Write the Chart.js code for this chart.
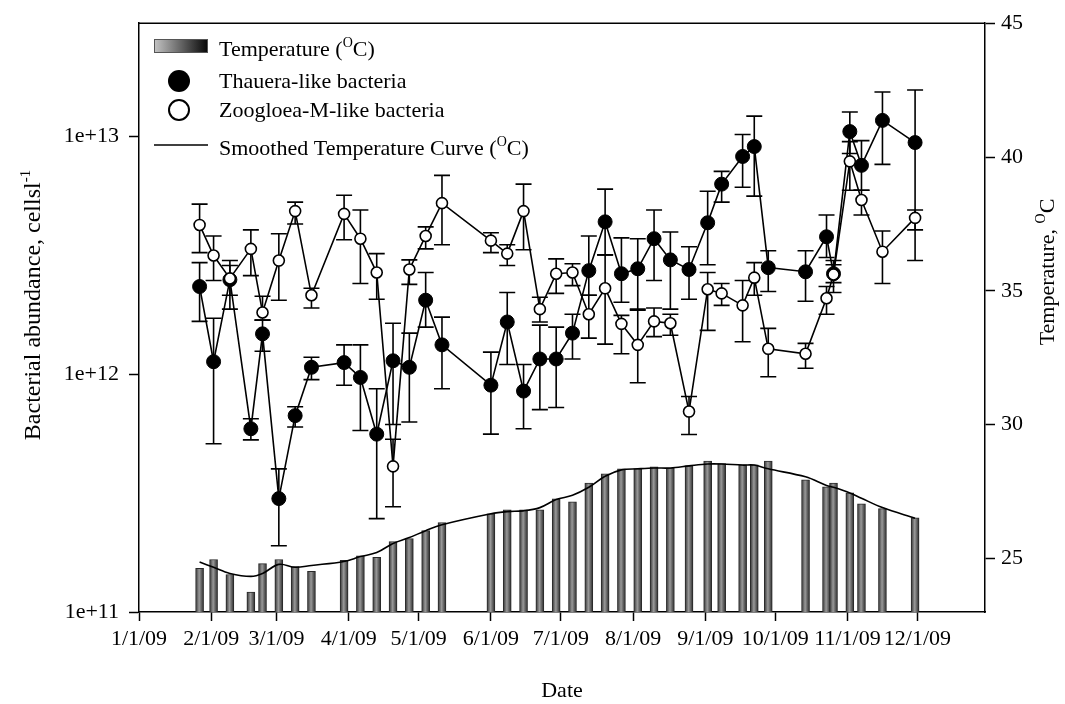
<!DOCTYPE html>
<html>
<head>
<meta charset="utf-8">
<script src="https://cdn.jsdelivr.net/npm/chart.js@4.4.0/dist/chart.umd.min.js"></script>
<style>
  html, body { margin: 0; padding: 0; background: #fff; }
</style>
</head>
<body>
<canvas id="grafico" width="1065" height="704"></canvas>
<script>
// sampling dates (m/d/yy)
const sampleDates = ['1/27/09','2/2/09','2/9/09','2/18/09','2/23/09','3/2/09','3/9/09','3/16/09','3/30/09','4/6/09',
  '4/13/09','4/20/09','4/27/09','5/4/09','5/11/09','6/1/09','6/8/09','6/15/09','6/22/09','6/29/09',
  '7/6/09','7/13/09','7/20/09','7/27/09','8/3/09','8/10/09','8/17/09','8/25/09','9/2/09','9/8/09',
  '9/17/09','9/22/09','9/28/09','10/14/09','10/23/09','10/26/09','11/2/09','11/7/09','11/16/09','11/30/09'];

// Thauera-like bacteria, cells/l, with error bar limits
const thauera = [2.34e12, 1.13e12, 2.5e12, 5.9e11, 1.48e12, 3.0e11, 6.7e11, 1.07e12, 1.12e12, 9.7e11,
  5.6e11, 1.14e12, 1.07e12, 2.05e12, 1.33e12, 9.0e11, 1.66e12, 8.5e11, 1.16e12, 1.16e12,
  1.49e12, 2.73e12, 4.38e12, 2.65e12, 2.78e12, 3.72e12, 3.03e12, 2.76e12, 4.34e12, 6.31e12,
  8.25e12, 9.08e12, 2.81e12, 2.70e12, 3.79e12, 2.65e12, 1.05e13, 7.57e12, 1.17e13, 9.44e12];
const thaueraHi = [2.95e12, 1.72e12, 2.87e12, 6.5e11, 1.69e12, 4.0e11, 7.3e11, 1.18e12, 1.33e12, 1.33e12,
  8.7e11, 1.64e12, 1.49e12, 2.68e12, 1.74e12, 1.24e12, 2.21e12, 1.10e12, 1.61e12, 1.58e12,
  1.79e12, 3.82e12, 6.01e12, 3.75e12, 3.72e12, 4.91e12, 3.97e12, 3.44e12, 5.89e12, 7.14e12,
  1.02e13, 1.22e13, 3.31e12, 3.31e12, 4.68e12, 2.89e12, 1.27e13, 9.62e12, 1.54e13, 1.57e13];
const thaueraLo = [1.67e12, 5.1e11, 2.15e12, 5.3e11, 1.25e12, 1.9e11, 6.0e11, 9.5e11, 9.0e11, 5.8e11,
  2.47e11, 6.15e11, 6.3e11, 1.58e12, 8.7e11, 5.6e11, 1.10e12, 5.9e11, 7.1e11, 7.25e11,
  1.16e12, 2.15e12, 3.18e12, 2.01e12, 1.86e12, 2.48e12, 1.88e12, 2.07e12, 2.89e12, 5.30e12,
  6.12e12, 5.62e12, 2.23e12, 2.03e12, 3.10e12, 2.43e12, 8.49e12, 5.95e12, 7.64e12, 3.01e12];

// Zoogloea-M-like bacteria, cells/l, with error bar limits
const zoogloea = [4.25e12, 3.16e12, 2.53e12, 3.37e12, 1.82e12, 3.01e12, 4.86e12, 2.15e12, 4.73e12, 3.72e12,
  2.68e12, 4.1e11, 2.76e12, 3.82e12, 5.25e12, 3.65e12, 3.22e12, 4.86e12, 1.88e12, 2.65e12,
  2.68e12, 1.79e12, 2.30e12, 1.63e12, 1.33e12, 1.67e12, 1.64e12, 6.97e11, 2.28e12, 2.19e12,
  1.95e12, 2.55e12, 1.28e12, 1.22e12, 2.09e12, 2.63e12, 7.87e12, 5.41e12, 3.28e12, 4.55e12];
const zoogloeaHi = [5.2e12, 3.82e12, 3.01e12, 4.05e12, 2.13e12, 3.9e12, 5.3e12, 2.3e12, 5.67e12, 4.91e12,
  3.22e12, 5.33e11, 3.03e12, 4.17e12, 6.87e12, 3.94e12, 3.51e12, 6.31e12, 2.11e12, 3.06e12,
  2.92e12, 2.15e12, 3.18e12, 1.77e12, 1.88e12, 1.90e12, 1.79e12, 8.06e11, 2.68e12, 2.41e12,
  2.48e12, 2.95e12, 1.56e12, 1.35e12, 2.34e12, 3.01e12, 9.53e12, 5.95e12, 4.01e12, 4.91e12];
const zoogloeaLo = [3.25e12, 2.48e12, 1.88e12, 2.60e12, 1.69e12, 2.05e12, 4.29e12, 1.90e12, 3.68e12, 2.41e12,
  2.07e12, 2.77e11, 2.39e12, 3.37e12, 3.51e12, 3.25e12, 2.87e12, 3.34e12, 1.66e12, 2.19e12,
  2.36e12, 1.42e12, 1.34e12, 1.22e12, 9.22e11, 1.44e12, 1.46e12, 5.58e11, 1.53e12, 1.95e12,
  1.37e12, 2.15e12, 9.77e11, 1.06e12, 1.79e12, 2.21e12, 5.95e12, 4.68e12, 2.41e12, 4.05e12];

// water temperature (oC) and the smoothed curve
const temperature = [24.63, 24.96, 24.4, 23.74, 24.81, 24.96, 24.70, 24.52, 24.93, 25.1,
  25.04, 25.63, 25.74, 26.04, 26.34, 26.67, 26.82, 26.82, 26.82, 27.23,
  27.12, 27.82, 28.16, 28.35, 28.35, 28.42, 28.38, 28.46, 28.64, 28.55,
  28.5, 28.5, 28.64, 27.94, 27.68, 27.82, 27.45, 27.04, 26.86, 26.52];
const smoothedTemp = [24.87, 24.67, 24.44, 24.33, 24.44, 24.78, 24.67, 24.74, 24.89, 25.07,
  25.22, 25.56, 25.78, 26.04, 26.26, 26.67, 26.75, 26.78, 26.90, 27.20,
  27.36, 27.66, 28.07, 28.31, 28.35, 28.38, 28.38, 28.46, 28.53, 28.53,
  28.49, 28.49, 28.35, 28.05, 27.73, 27.66, 27.45, 27.25, 26.90, 26.50];

// axes
const monthTicks = ['1/1/09','2/1/09','3/1/09','4/1/09','5/1/09','6/1/09','7/1/09','8/1/09','9/1/09','10/1/09','11/1/09','12/1/09'];
const dateRange = ['1/1/09', '12/30/09'];
const abundanceTicks = [1e11, 1e12, 1e13];
const abundanceRange = [1e11, 3e13];
const tempTicks = [25, 30, 35, 40, 45];
const tempRange = [23, 45];

const FONT = '"Liberation Serif", "Times New Roman", serif';

// days since 1 Jan 2009
function dayOf(s) {
  const [m, d, y] = s.split('/').map(Number);
  return (Date.UTC(2000 + y, m - 1, d) - Date.UTC(2009, 0, 1)) / 864e5;
}
const days = sampleDates.map(dayOf);
const monthDays = monthTicks.map(dayOf);
const pts = (vals) => vals.map((v, i) => ({ x: days[i], y: v }));

// text with {superscript} parts
function drawRich(ctx, str, x, y, size, center) {
  const parts = str.split(/[{}]/).map((t, i) => ({ t, sup: i % 2 === 1 }));
  const big = size + 'px ' + FONT;
  const small = Math.round(size * 0.62) + 'px ' + FONT;
  let w = 0;
  parts.forEach((p) => {
    ctx.font = p.sup ? small : big;
    p.w = ctx.measureText(p.t).width;
    w += p.w;
  });
  let cx = center ? x - w / 2 : x;
  ctx.textAlign = 'left';
  ctx.textBaseline = 'alphabetic';
  parts.forEach((p) => {
    ctx.font = p.sup ? small : big;
    ctx.fillText(p.t, cx, p.sup ? y - size * 0.42 : y);
    cx += p.w;
  });
}

const errorBars = {
  id: 'errorBars',
  beforeDatasetsDraw(chart) {
    const { ctx } = chart;
    const x = chart.scales.x, y = chart.scales.y;
    ctx.save();
    ctx.strokeStyle = '#000';
    ctx.lineWidth = 1.6;
    chart.data.datasets.forEach((ds) => {
      if (!ds.errHi) return;
      ds.data.forEach((p, i) => {
        const px = x.getPixelForValue(p.x);
        const t = y.getPixelForValue(ds.errHi[i]);
        const b = y.getPixelForValue(ds.errLo[i]);
        ctx.beginPath();
        ctx.moveTo(px, t); ctx.lineTo(px, b);
        ctx.moveTo(px - 8, t); ctx.lineTo(px + 8, t);
        ctx.moveTo(px - 8, b); ctx.lineTo(px + 8, b);
        ctx.stroke();
      });
    });
    ctx.restore();
  }
};

const decor = {
  id: 'decor',
  afterDraw(chart) {
    const { ctx, chartArea: a } = chart;
    ctx.save();
    // top edge of the frame
    ctx.strokeStyle = '#000';
    ctx.lineWidth = 1.5;
    ctx.beginPath();
    ctx.moveTo(a.left, a.top); ctx.lineTo(a.right, a.top);
    ctx.stroke();

    ctx.fillStyle = '#000';
    // axis titles
    drawRich(ctx, 'Date', (a.left + a.right) / 2, 697, 22, true);
    ctx.save();
    ctx.translate(40, 305);
    ctx.rotate(-Math.PI / 2);
    drawRich(ctx, 'Bacterial abundance, cellsl{-1}', 0, 0, 24, true);
    ctx.restore();
    ctx.save();
    ctx.translate(1054, 272);
    ctx.rotate(-Math.PI / 2);
    drawRich(ctx, 'Temperature, {O}C', 0, 0, 22, true);
    ctx.restore();

    // legend
    const ds = chart.data.datasets;
    const g = ctx.createLinearGradient(154, 0, 208, 0);
    g.addColorStop(0, '#c4c4c4');
    g.addColorStop(1, '#050505');
    ctx.fillStyle = g;
    ctx.fillRect(154, 39, 54, 14);
    ctx.strokeStyle = '#555';
    ctx.lineWidth = 1;
    ctx.strokeRect(154.5, 39.5, 53, 13);

    ctx.fillStyle = '#000';
    ctx.beginPath();
    ctx.arc(179, 81, 11, 0, Math.PI * 2);
    ctx.fill();

    ctx.fillStyle = '#fff';
    ctx.strokeStyle = '#000';
    ctx.lineWidth = 2;
    ctx.beginPath();
    ctx.arc(179, 110, 10, 0, Math.PI * 2);
    ctx.fill();
    ctx.stroke();

    ctx.lineWidth = 1.6;
    ctx.beginPath();
    ctx.moveTo(154, 145); ctx.lineTo(208, 145);
    ctx.stroke();

    ctx.fillStyle = '#000';
    const rows = [[ds[3].label, 56], [ds[1].label, 88], [ds[0].label, 117], [ds[2].label, 155]];
    rows.forEach(([txt, yb]) => drawRich(ctx, txt, 219, yb, 22, false));
    ctx.restore();
  }
};

const tickFont = { family: FONT, size: 22 };

new Chart(document.getElementById('grafico'), {
  data: {
    datasets: [
      {
        type: 'line',
        label: 'Zoogloea-M-like bacteria',
        data: pts(zoogloea),
        errHi: zoogloeaHi,
        errLo: zoogloeaLo,
        yAxisID: 'y',
        order: 0,
        borderColor: '#000',
        borderWidth: 1.6,
        tension: 0,
        pointRadius: 5.5,
        pointBackgroundColor: '#fff',
        pointBorderColor: '#000',
        pointBorderWidth: 1.6
      },
      {
        type: 'line',
        label: 'Thauera-like bacteria',
        data: pts(thauera),
        errHi: thaueraHi,
        errLo: thaueraLo,
        yAxisID: 'y',
        order: 1,
        borderColor: '#000',
        borderWidth: 1.6,
        tension: 0,
        pointRadius: 7,
        pointBackgroundColor: '#000',
        pointBorderColor: '#000',
        pointBorderWidth: 1
      },
      {
        type: 'line',
        label: 'Smoothed Temperature Curve ({O}C)',
        data: pts(smoothedTemp),
        yAxisID: 'yT',
        order: 2,
        borderColor: '#000',
        borderWidth: 1.6,
        tension: 0.35,
        pointRadius: 0
      },
      {
        type: 'bar',
        label: 'Temperature ({O}C)',
        data: pts(temperature),
        yAxisID: 'yT',
        order: 3,
        barThickness: 8,
        borderColor: '#2a2a2a',
        borderWidth: 1,
        borderSkipped: 'bottom',
        backgroundColor(c) {
          const chart = c.chart;
          if (c.type !== 'data' || !chart.scales.x) return '#666';
          const px = chart.scales.x.getPixelForValue(c.raw.x);
          if (!Number.isFinite(px)) return '#666';
          const g = chart.ctx.createLinearGradient(px - 4, 0, px + 4, 0);
          g.addColorStop(0, '#333');
          g.addColorStop(0.45, '#9a9a9a');
          g.addColorStop(1, '#2a2a2a');
          return g;
        }
      }
    ]
  },
  options: {
    responsive: false,
    animation: false,
    devicePixelRatio: 1,
    layout: { padding: { top: 19, left: 0, right: 0, bottom: 0 } },
    plugins: {
      legend: { display: false },
      tooltip: { enabled: false }
    },
    scales: {
      x: {
        type: 'linear',
        position: 'bottom',
        offset: false,
        min: dayOf(dateRange[0]),
        max: dayOf(dateRange[1]),
        afterBuildTicks: (s) => { s.ticks = monthDays.map((v) => ({ value: v })); },
        afterFit: (s) => { s.height = 92; },
        ticks: {
          autoSkip: false,
          maxRotation: 0,
          padding: 5,
          color: '#000',
          font: tickFont,
          callback: (v) => monthTicks[monthDays.indexOf(v)]
        },
        grid: { offset: false, drawOnChartArea: false, tickLength: 9, tickColor: '#000', tickWidth: 1.5 },
        border: { color: '#000', width: 1.5 }
      },
      y: {
        type: 'logarithmic',
        position: 'left',
        min: abundanceRange[0],
        max: abundanceRange[1],
        afterBuildTicks: (s) => { s.ticks = abundanceTicks.map((v) => ({ value: v, major: true })); },
        afterFit: (s) => { s.width = 139; },
        ticks: {
          padding: 10,
          color: '#000',
          font: tickFont,
          callback: (v) => '1e+' + Math.round(Math.log10(v))
        },
        grid: { drawOnChartArea: false, tickLength: 10, tickColor: '#000', tickWidth: 1.5 },
        border: { color: '#000', width: 1.5 }
      },
      yT: {
        type: 'linear',
        position: 'right',
        min: tempRange[0],
        max: tempRange[1],
        afterBuildTicks: (s) => { s.ticks = tempTicks.map((v) => ({ value: v })); },
        afterFit: (s) => { s.width = 80; },
        ticks: { padding: 6, color: '#000', font: tickFont },
        grid: { drawOnChartArea: false, tickLength: 10, tickColor: '#000', tickWidth: 1.5 },
        border: { color: '#000', width: 1.5 }
      }
    }
  },
  plugins: [errorBars, decor]
});
</script>
</body>
</html>
